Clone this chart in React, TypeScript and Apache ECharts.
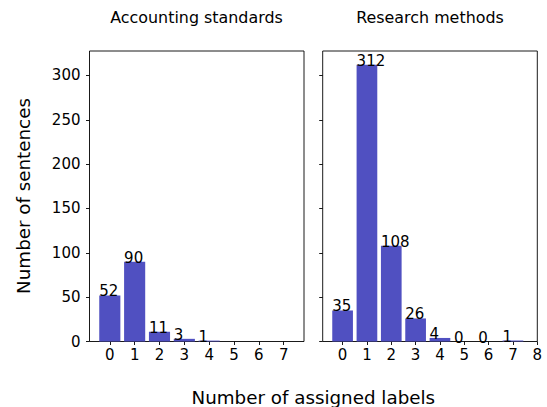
import React, { useEffect, useRef } from "react";
import * as echarts from "echarts";

const titles = ["Accounting standards", "Research methods"];
const yAxisName = "Number of sentences";
const xAxisName = "Number of assigned labels";

const leftCategories = [0, 1, 2, 3, 4];
const leftValues = [52, 90, 11, 3, 1];
const rightCategories = [0, 1, 2, 3, 4, 5, 6, 7];
const rightValues = [35, 312, 108, 26, 4, 0, 0, 1];

const yTicks = [0, 50, 100, 150, 200, 250, 300];
const leftXTicks = [0, 1, 2, 3, 4, 5, 6, 7];
const rightXTicks = [0, 1, 2, 3, 4, 5, 6, 7, 8];

const FONT = "DejaVu Sans";
const BAR_COLOR = "#5050c1";
const BAR_HALF = 0.425;

function makeRender() {
  return (params: any, api: any) => {
    const x = api.value(0);
    const v = api.value(1);
    const p0 = api.coord([x - BAR_HALF, v]);
    const p1 = api.coord([x + BAR_HALF, 0]);
    return {
      type: "group",
      children: [
        {
          type: "rect",
          shape: { x: p0[0], y: p0[1], width: p1[0] - p0[0], height: p1[1] - p0[1] },
          style: { fill: BAR_COLOR },
        },
        {
          type: "text",
          x: p0[0],
          y: p0[1] + 3.5,
          z2: 10,
          style: {
            text: String(v),
            fill: "#000",
            font: `15px "${FONT}"`,
            textAlign: "left",
            textVerticalAlign: "bottom",
          },
        },
      ],
    };
  };
}

export default function App() {
  const ref = useRef<HTMLDivElement>(null);
  useEffect(() => {
    if (!ref.current) return;
    const chart = echarts.init(ref.current, null, { renderer: "svg" });
    const yAxisCommon = (showLabels: boolean) => ({
      type: "value",
      min: 0,
      max: 327.6,
      interval: 50,
      splitLine: { show: false },
      axisLine: { show: false, onZero: false },
      axisTick: { show: true, length: 3.5, inside: false, lineStyle: { color: "#000", width: 0.9 }, customValues: yTicks },
      axisLabel: {
        show: showLabels,
        customValues: yTicks,
        margin: 9,
        color: "#000",
        fontFamily: FONT,
        fontSize: 15,
        formatter: (v: number) => (v % 50 === 0 && v <= 300 ? String(v) : ""),
      },
    });
    const xAxisCommon = (min: number, max: number, ticks: number[]) => ({
      type: "value",
      min,
      max,
      splitLine: { show: false },
      axisLine: { show: false, onZero: false },
      axisTick: { show: true, length: 3.5, inside: false, lineStyle: { color: "#000", width: 0.9 }, customValues: ticks },
      axisLabel: {
        customValues: ticks,
        margin: 6,
        color: "#000",
        fontFamily: FONT,
        fontSize: 15,
        showMinLabel: true,
        showMaxLabel: true,
        formatter: (v: number) => (Number.isInteger(v) ? String(v) : ""),
      },
    });
    chart.setOption({
      animation: false,
      grid: [
        { left: 89.5, top: 51, width: 214.5, height: 290.5, show: true, borderColor: "#000", borderWidth: 0.9, backgroundColor: "transparent" },
        { left: 322.7, top: 51, width: 214.6, height: 290.5, show: true, borderColor: "#000", borderWidth: 0.9, backgroundColor: "transparent" },
      ],
      xAxis: [
        { ...xAxisCommon(-0.8175, 7.8175, leftXTicks), gridIndex: 0 },
        { ...xAxisCommon(-0.8175, 8, rightXTicks), gridIndex: 1 },
      ],
      yAxis: [
        { ...yAxisCommon(true), gridIndex: 0 },
        { ...yAxisCommon(false), gridIndex: 1 },
      ],
      series: [
        {
          type: "custom",
          xAxisIndex: 0,
          yAxisIndex: 0,
          clip: false,
          data: leftCategories.map((c, i) => [c, leftValues[i]]),
          renderItem: makeRender(),
        },
        {
          type: "custom",
          xAxisIndex: 1,
          yAxisIndex: 1,
          clip: false,
          data: rightCategories.map((c, i) => [c, rightValues[i]]),
          renderItem: makeRender(),
        },
      ],
      graphic: [
        {
          type: "text",
          x: 196.5,
          y: 17.5,
          style: { text: titles[0], fill: "#000", font: `15.9px "${FONT}"`, textAlign: "center", textVerticalAlign: "middle" },
        },
        {
          type: "text",
          x: 430,
          y: 17.5,
          style: { text: titles[1], fill: "#000", font: `15.9px "${FONT}"`, textAlign: "center", textVerticalAlign: "middle" },
        },
        {
          type: "text",
          x: 313.3,
          y: 397,
          style: { text: xAxisName, fill: "#000", font: `18.3px "${FONT}"`, textAlign: "center", textVerticalAlign: "middle" },
        },
        {
          type: "text",
          x: 23.2,
          y: 196,
          rotation: Math.PI / 2,
          style: { text: yAxisName, fill: "#000", font: `18.3px "${FONT}"`, textAlign: "center", textVerticalAlign: "middle" },
        },
      ],
    });
    return () => chart.dispose();
  }, []);
  return (
    <div
      ref={ref}
      style={{ position: "absolute", left: 0, top: 0, width: 547, height: 407 }}
    />
  );
}
